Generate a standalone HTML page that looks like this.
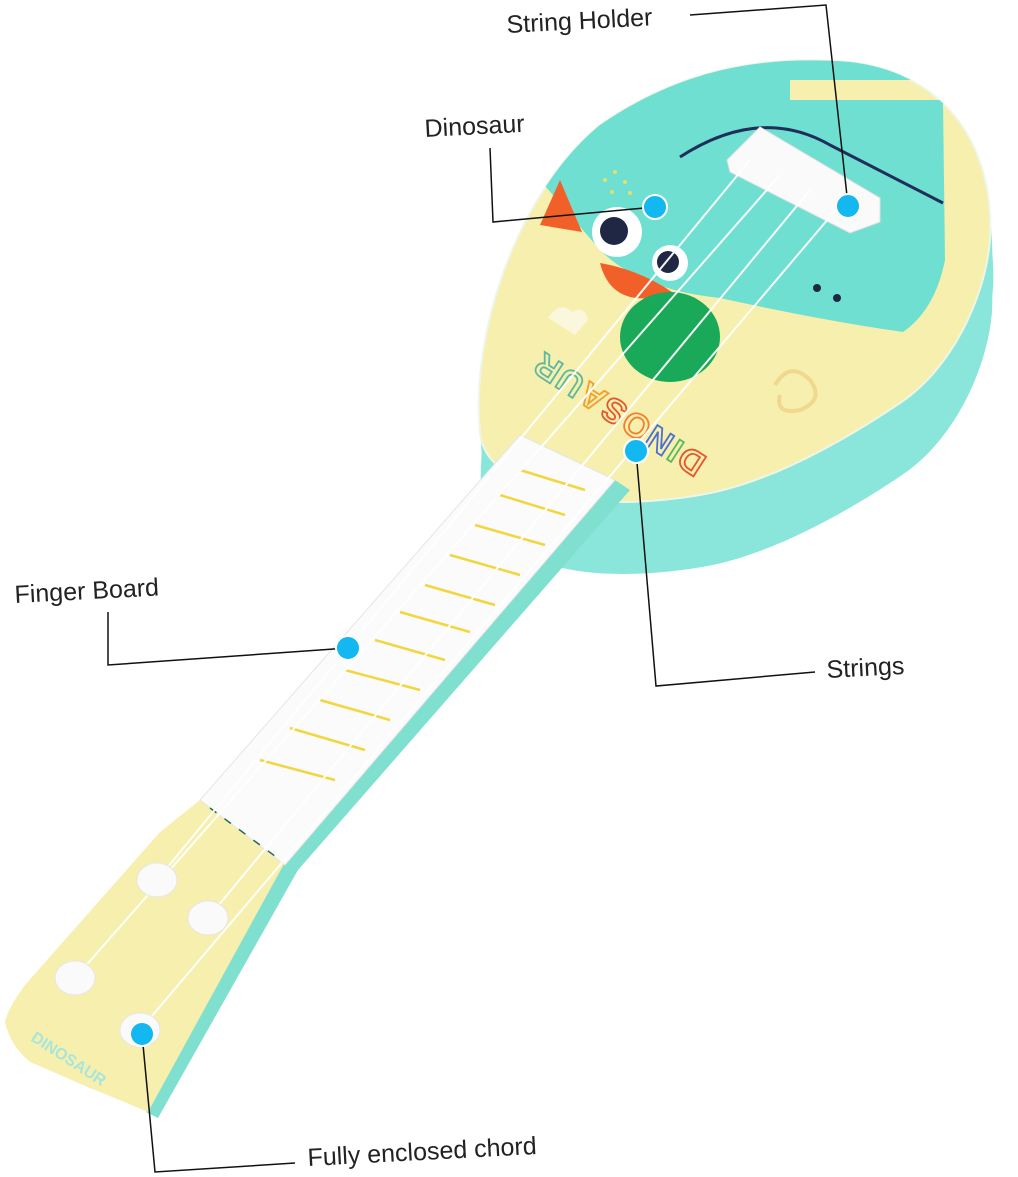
<!DOCTYPE html>
<html><head><meta charset="utf-8"><style>
html,body{margin:0;padding:0;background:#fff}
svg{display:block}
text{font-family:"Liberation Sans",sans-serif;font-size:25px;fill:#222}
</style></head><body>
<svg width="1018" height="1177" viewBox="0 0 1018 1177" xmlns="http://www.w3.org/2000/svg">
<defs>
<path id="facep" d="M480,433 C470,330 520,190 600,125 C680,70 760,55 850,62 C940,72 995,140 990,240 C985,300 950,370 900,403 C830,450 760,485 700,495 C640,505 580,505 540,490 C500,475 482,455 480,433 Z"/>
<clipPath id="face"><use href="#facep"/></clipPath>
</defs>
<!-- body side -->
<use href="#facep" transform="translate(2,72)" fill="#8ae6da"/>
<use href="#facep" transform="translate(3,48)" fill="#8ae6da"/>
<use href="#facep" transform="translate(2,24)" fill="#8ae6da"/>
<use href="#facep" fill="#f7efae" stroke="#eef6e8" stroke-width="2"/>
<g clip-path="url(#face)">
<path d="M540,180 L600,250 Q640,290 720,298 Q820,320 903,332 Q935,310 945,260 L943,100 L790,100 L790,80 L1000,80 L1000,0 L520,0 L520,180 Z" fill="#6fdfd2"/>
<path d="M680,157 Q760,105 830,145 L943,203" stroke="#1f2f5a" stroke-width="3" fill="none"/>
</g>
<path d="M560,180 L582,232 L540,225 Z" fill="#f2602a"/>
<path d="M600,263 Q640,270 672,292 L650,298 Q610,302 600,263 Z" fill="#f2602a"/>
<g fill="#e8e06a"><circle cx="605" cy="180" r="2"/><circle cx="615" cy="172" r="2"/><circle cx="625" cy="182" r="2"/><circle cx="612" cy="192" r="2"/><circle cx="630" cy="193" r="2"/></g>
<circle cx="617" cy="232" r="25" fill="#fff"/><circle cx="614" cy="231" r="14" fill="#1f2744"/>
<circle cx="670" cy="263" r="18" fill="#fff"/><circle cx="668" cy="262" r="11" fill="#1f2744"/>
<circle cx="817" cy="288" r="4" fill="#1f2744"/><circle cx="837" cy="298" r="4" fill="#1f2744"/>
<ellipse cx="670" cy="337" rx="50" ry="45" fill="#1aa859"/>
<path d="M548 318 Q560 300 572 312 Q585 305 588 320 L575 335 Z" fill="#fbf7dc"/>
<path d="M775,385 q15 -25 35 -5 q15 20 -10 30 q-25 5 -20 -15" stroke="#f0d890" stroke-width="4" fill="none"/>
<text x="708" y="458" transform="rotate(213 708 458)" style="font-size:34px;font-weight:bold;stroke-width:1.8;fill:#f7efae;letter-spacing:2px"><tspan stroke="#e4572e">D</tspan><tspan stroke="#5cb85c">I</tspan><tspan stroke="#4a6fd0">N</tspan><tspan stroke="#f08030">O</tspan><tspan stroke="#e4572e">S</tspan><tspan stroke="#f0a030">A</tspan><tspan stroke="#5cb8a0">U</tspan><tspan stroke="#5cb8a0">R</tspan></text>
<!-- bridge -->
<path d="M727,160 L760,127 L880,198 L880,222 L850,233 L730,172 Z" fill="#fafafa" stroke="#e0e0e0"/>
<!-- neck side -->
<polygon points="615,480 630,490 298,870 158,1118 146,1112 285,862" fill="#7fe0cf"/>
<!-- headstock -->
<path d="M200,800 L285,862 L148,1112 Q120,1100 90,1088 Q60,1075 30,1062 Q10,1045 5,1022 Q8,1008 25,985 L160,832 Z" fill="#f7efae"/>
<!-- fingerboard -->
<polygon points="520,435 615,480 285,865 200,800" fill="#fbfbfb" stroke="#e5e5e5"/>
<line x1="210" y1="808" x2="283" y2="862" stroke="#2a6a50" stroke-width="1.5" stroke-dasharray="8 10"/>
<g stroke="#f2d640" stroke-width="2.5">
<line x1="520" y1="470" x2="585" y2="490"/><line x1="500" y1="495" x2="565" y2="515"/>
<line x1="475" y1="525" x2="545" y2="545"/><line x1="450" y1="555" x2="520" y2="575"/>
<line x1="425" y1="585" x2="495" y2="605"/><line x1="400" y1="612" x2="470" y2="632"/>
<line x1="375" y1="640" x2="445" y2="660"/><line x1="345" y1="670" x2="420" y2="690"/>
<line x1="320" y1="700" x2="390" y2="720"/><line x1="290" y1="728" x2="365" y2="750"/>
<line x1="260" y1="760" x2="335" y2="780"/>
</g>
<!-- strings -->
<g stroke="#fff" stroke-width="2" opacity="0.95">
<line x1="750" y1="160" x2="157" y2="880"/><line x1="780" y1="175" x2="75" y2="978"/>
<line x1="810" y1="190" x2="208" y2="918"/><line x1="840" y1="205" x2="140" y2="1030"/>
</g>
<!-- pegs -->
<g fill="#fafafa" stroke="#e6e6e6">
<ellipse cx="157" cy="880" rx="20" ry="17"/><ellipse cx="208" cy="918" rx="20" ry="17"/>
<ellipse cx="75" cy="978" rx="20" ry="17"/><ellipse cx="140" cy="1030" rx="20" ry="17"/>
</g>
<text x="30" y="1040" transform="rotate(33 30 1040)" style="font-size:16px;font-weight:bold;fill:#a8e6da">DINOSAUR</text>
<!-- connectors -->
<g stroke="#111" stroke-width="1.5" fill="none">
<polyline points="690,15 826,5 848,205"/>
<polyline points="490,148 493,222 655,207"/>
<polyline points="108,612 108,665 348,648"/>
<polyline points="815,672 656,686 636,451"/>
<polyline points="295,1163 155,1172 142,1034"/>
</g>
<g fill="#13b8f0" stroke="#fff" stroke-width="2">
<circle cx="655" cy="207" r="12"/><circle cx="848" cy="206" r="12"/>
<circle cx="636" cy="451" r="12"/><circle cx="348" cy="648" r="12"/><circle cx="142" cy="1034" r="12"/>
</g>
<text x="507" y="33" transform="rotate(-3 507 33)">String Holder</text>
<text x="425" y="137" transform="rotate(-3 425 137)">Dinosaur</text>
<text x="15" y="603" transform="rotate(-3 15 603)">Finger Board</text>
<text x="827" y="678" transform="rotate(-3 827 678)">Strings</text>
<text x="308" y="1166" transform="rotate(-3 308 1166)">Fully enclosed chord</text>
</svg>
</body></html>
